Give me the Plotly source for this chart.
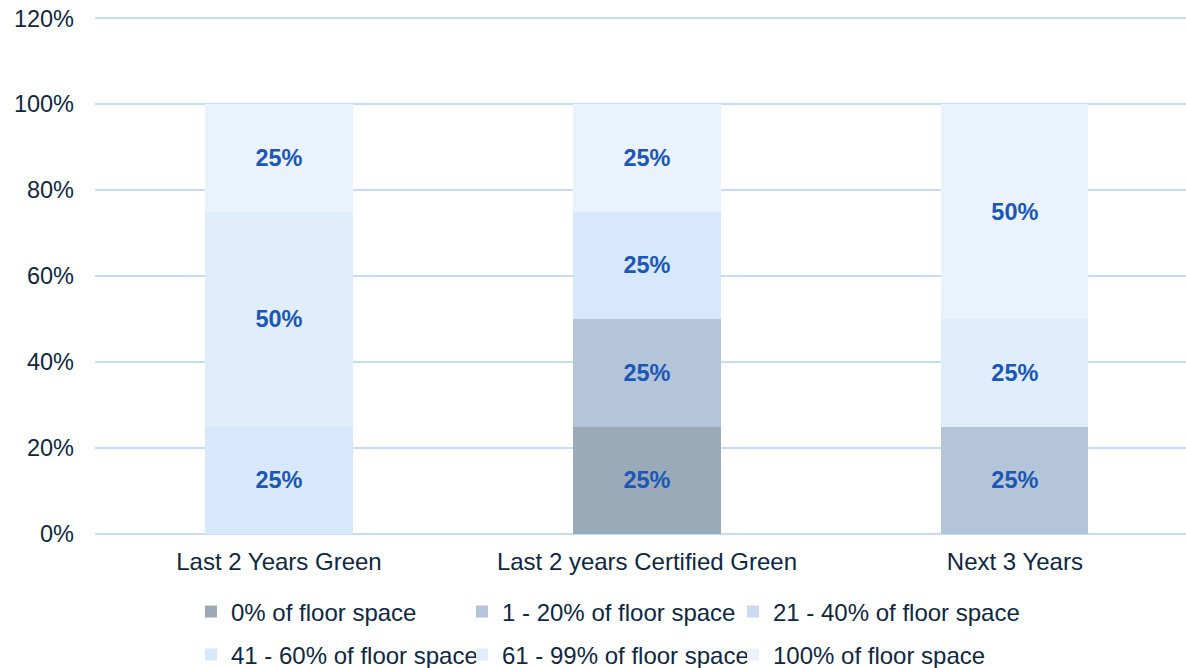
import plotly.graph_objects as go

categories = ["Last 2 Years Green", "Last 2 years Certified Green", "Next 3 Years"]
series_names = [
    "0% of floor space",
    "1 - 20% of floor space",
    "21 - 40% of floor space",
    "41 - 60% of floor space",
    "61 - 99% of floor space",
    "100% of floor space",
]
s0 = [0.0, 0.25, 0.0]
s1 = [0.0, 0.25, 0.25]
s2 = [0.0, 0.0, 0.0]
s3 = [0.25, 0.25, 0.0]
s4 = [0.50, 0.0, 0.25]
s5 = [0.25, 0.25, 0.50]
series_values = [s0, s1, s2, s3, s4, s5]
colors = ["#9AAAB9", "#B4C5DA", "#C9DBF3", "#D8E8FC", "#E0EDFD", "#EAF2FE"]
ytick_vals = [0, 0.2, 0.4, 0.6, 0.8, 1.0, 1.2]
ytick_text = ["0%", "20%", "40%", "60%", "80%", "100%", "120%"]

FONT = "Liberation Sans, Arial, sans-serif"
TEXT_COLOR = "#0E2841"
GRID = "#C6DDF8"

# legend entry positions (container pixels: left of entry, vertical centre)
legend_x = [191, 462, 733, 191, 462, 733]
legend_y = [612, 612, 612, 655, 655, 655]

fig = go.Figure()
legend_layout = {}
for i, (name, vals) in enumerate(zip(series_names, series_values)):
    key = "legend" if i == 0 else f"legend{i+1}"
    fig.add_trace(go.Bar(
        x=categories,
        y=[v if v > 0 else None for v in vals],
        name=name,
        marker=dict(color=colors[i], line=dict(width=0)),
        text=[f"{round(v*100)}%" if v > 0 else "" for v in vals],
        textposition="inside",
        insidetextanchor="middle",
        textangle=0,
        textfont=dict(family=FONT, size=23.5, color="#1C57B3", weight="bold"),
        hoverinfo="skip",
        showlegend=True,
        legend=key,
    ))
    legend_layout[key] = dict(
        visible=True,
        orientation="h",
        xref="container", yref="container",
        x=legend_x[i] / 1186, y=1 - legend_y[i] / 668,
        xanchor="left", yanchor="middle",
        itemwidth=30,
        font=dict(size=24, color=TEXT_COLOR),
        bgcolor="rgba(0,0,0,0)",
    )

fig.update_layout(
    showlegend=True,
    barmode="stack",
    bargap=0.6,
    width=1186,
    height=668,
    margin=dict(l=95, r=0, t=17, b=134),
    paper_bgcolor="white",
    plot_bgcolor="white",
    font=dict(family=FONT, size=24, color=TEXT_COLOR),
    xaxis=dict(
        range=[-0.5, 2.465],
        showgrid=False,
        showline=False,
        ticks="",
        ticklabelstandoff=11,
        tickfont=dict(size=24, color=TEXT_COLOR),
        fixedrange=True,
    ),
    yaxis=dict(
        range=[0, 1.203],
        tickvals=ytick_vals,
        ticktext=ytick_text,
        showgrid=True,
        gridcolor=GRID,
        gridwidth=2,
        zeroline=True,
        zerolinecolor=GRID,
        zerolinewidth=2,
        showline=False,
        ticks="",
        ticklabelstandoff=20,
        tickfont=dict(size=23.5, color=TEXT_COLOR),
        fixedrange=True,
    ),
    **legend_layout,
)

fig.write_html(
    "out.html",
    config={"displayModeBar": False},
    post_script="document.body.style.margin='0';",
)
